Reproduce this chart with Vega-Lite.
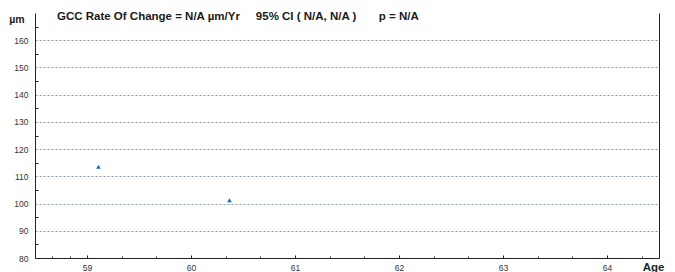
{
  "$schema": "https://vega.github.io/schema/vega-lite/v6.json",
  "autosize": {"type": "none"},
  "width": 624,
  "height": 245,
  "padding": {"left": 35, "top": 13, "right": 16, "bottom": 14},
  "background": "white",
  "config": {"font": "Liberation Sans", "view": {"stroke": null}},
  "title": {
    "text": "GCC Rate Of Change = N/A µm/Yr\u00a0\u00a0\u00a0\u00a0\u00a095% CI ( N/A, N/A )\u00a0\u00a0\u00a0\u00a0\u00a0\u00a0\u00a0p = N/A",
    "anchor": "start",
    "frame": "group",
    "dx": 22,
    "offset": -18,
    "baseline": "alphabetic",
    "fontSize": 11.5,
    "fontWeight": "bold",
    "color": "#1a1a1a"
  },
  "data": {"values": [
    {"age": 59.11, "gcc": 113.5},
    {"age": 60.37, "gcc": 101.2}
  ]},
  "resolve": {"scale": {"x": "shared", "y": "shared"}, "axis": {"x": "independent", "y": "independent"}},
  "layer": [
    {
      "mark": {"type": "point", "shape": "triangle-up", "filled": true, "size": 22, "color": "#1c6cb5", "opacity": 1},
      "encoding": {
        "x": {"field": "age", "type": "quantitative",
          "scale": {"domain": [58.5, 64.5], "nice": false, "zero": false},
          "axis": {"orient": "bottom", "values": [59, 60, 61, 62, 63, 64], "ticks": false, "grid": false,
            "domain": true, "domainColor": "#222", "domainWidth": 1,
            "labelPadding": 5, "labelFontSize": 8.5, "labelColor": "#333",
            "title": "Age", "titleX": 618, "titleY": 12, "titleAlign": "center", "titleBaseline": "alphabetic",
            "titleFontSize": 11.5, "titleFontWeight": "bold", "titleColor": "#222"}},
        "y": {"field": "gcc", "type": "quantitative",
          "scale": {"domain": [80, 170], "nice": false, "zero": false},
          "axis": {"orient": "left", "values": [80, 90, 100, 110, 120, 130, 140, 150, 160], "ticks": false,
            "grid": true, "gridColor": "#8a99a3", "gridDash": [2, 2], "gridWidth": 1,
            "domain": true, "domainColor": "#222", "domainWidth": 1,
            "labelPadding": 7, "labelFontSize": 8.5, "labelColor": "#333",
            "title": "µm", "titleAngle": 0, "titleX": -18.5, "titleY": 9, "titleAlign": "center", "titleBaseline": "alphabetic",
            "titleFontSize": 10.5, "titleFontWeight": "bold", "titleColor": "#222"}}
      }
    },
    {
      "mark": {"type": "point", "opacity": 0},
      "encoding": {
        "x": {"field": "age", "type": "quantitative",
          "axis": {"orient": "bottom", "values": [59, 60, 61, 62, 63, 64], "ticks": true, "tickSize": -3, "tickColor": "#222",
            "labels": false, "domain": false, "grid": false, "title": null}},
        "y": {"field": "gcc", "type": "quantitative",
          "axis": {"orient": "left", "values": [85, 95, 105, 115, 125, 135, 145, 155, 165], "ticks": true, "tickSize": -3, "tickColor": "#222",
            "labels": false, "domain": false, "grid": false, "title": null}}
      }
    },
    {
      "mark": {"type": "point", "opacity": 0},
      "encoding": {
        "x": {"field": "age", "type": "quantitative",
          "axis": {"orient": "bottom", "values": [58.667, 58.833, 59.333, 59.667, 60.333, 60.667, 61.333, 61.667, 62.333, 62.667, 63.333, 63.667, 64.333],
            "ticks": true, "tickSize": -2, "tickColor": "#444",
            "labels": false, "domain": false, "grid": false, "title": null}},
        "y": {"field": "gcc", "type": "quantitative",
          "axis": {"orient": "right", "ticks": false, "labels": false, "grid": false, "title": null,
            "domain": true, "domainColor": "#222", "domainWidth": 1}}
      }
    }
  ]
}
